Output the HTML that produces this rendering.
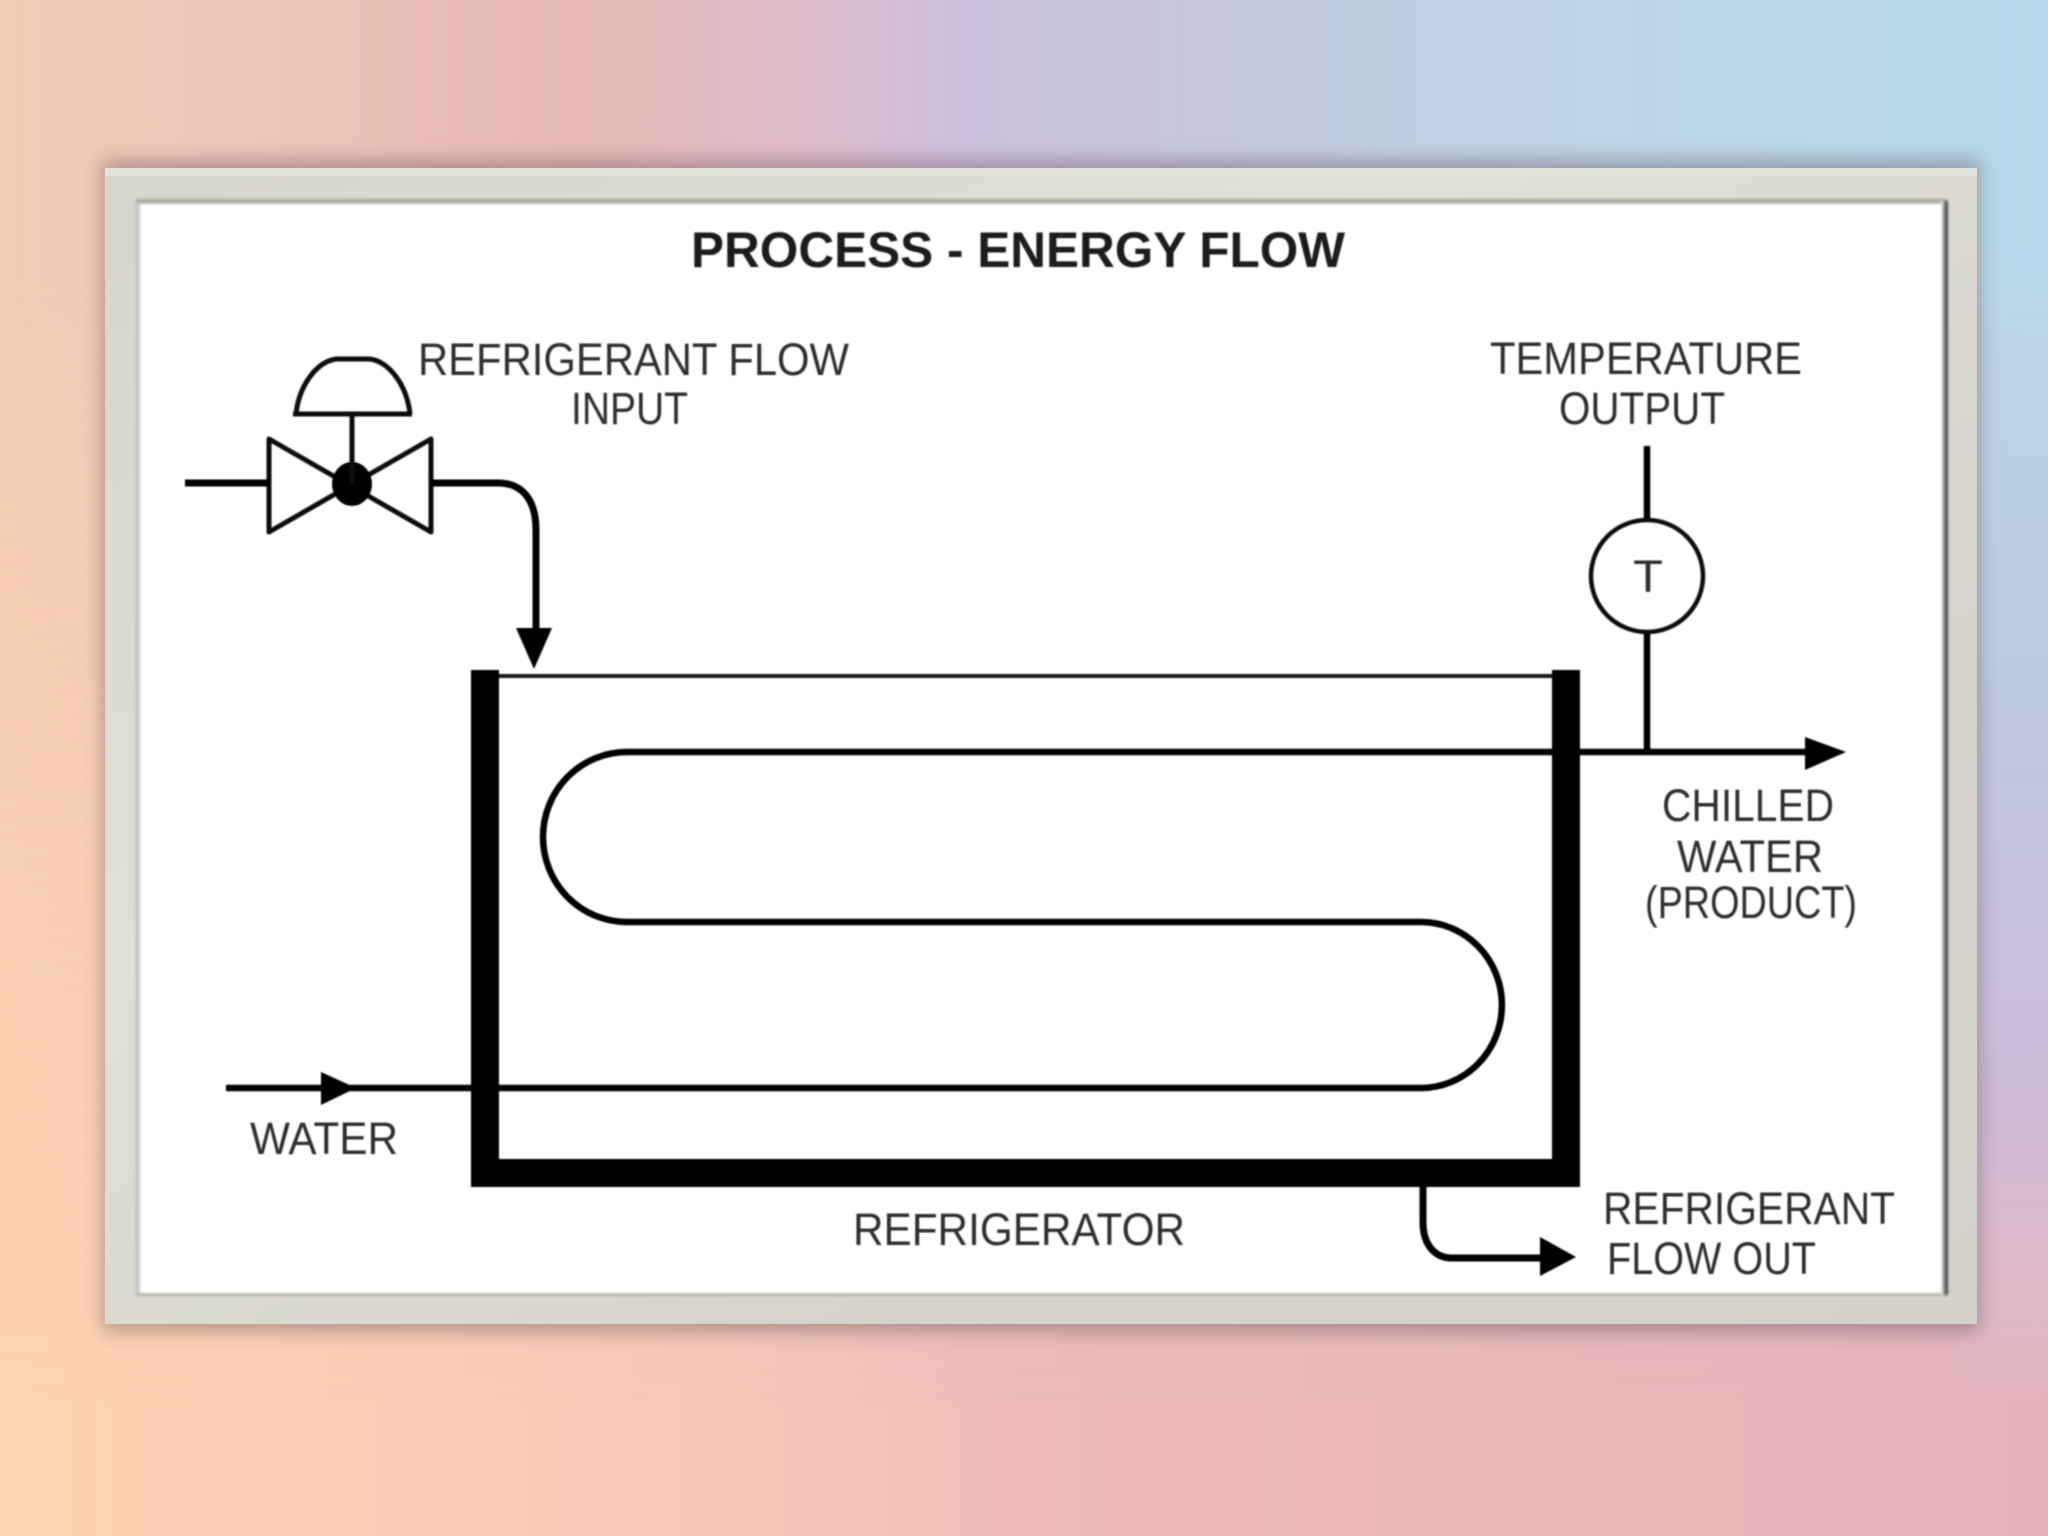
<!DOCTYPE html>
<html>
<head>
<meta charset="utf-8">
<style>
html,body{margin:0;padding:0;width:2048px;height:1536px;overflow:hidden}
body{position:relative;background:#e8b8b8}
.bg{position:absolute;left:0;top:0;width:2048px;height:1536px}
#bot{background:linear-gradient(90deg,#fdd4b1 0%,#fbd0b6 15%,#f4c8b8 35%,#edbcb8 50%,#e8b7b8 75%,#e4b3ba 100%)}
#top{background:linear-gradient(90deg,#f2cbb4 0%,#efc6ba 10%,#e6b9b4 28%,#e0bcc8 38%,#cdc0dc 47%,#c5c9de 60%,#bcd4e4 78%,#b5d9ea 100%);
-webkit-mask-image:linear-gradient(180deg,#000 0%,#000 18%,rgba(0,0,0,.6) 45%,rgba(0,0,0,.25) 68%,transparent 92%);mask-image:linear-gradient(180deg,#000 0%,#000 18%,rgba(0,0,0,.6) 45%,rgba(0,0,0,.25) 68%,transparent 92%)}
#rs{position:absolute;left:1960px;top:250px;width:88px;height:1150px;background:linear-gradient(180deg,rgba(188,208,228,0) 0%,#bcd0e4 22%,#bfc8e0 42%,#c8bfdf 60%,#cdbbd6 74%,#dfb8c8 90%,rgba(228,179,186,0) 100%)}
svg{position:absolute;left:0;top:0}
text{font-family:"Liberation Sans",sans-serif;fill:#2e2e2e;font-size:45px}
</style>
</head>
<body>
<div class="bg" id="bot"></div>
<div class="bg" id="top"></div>
<div id="rs"></div>
<svg width="2048" height="1536" viewBox="0 0 2048 1536" xmlns="http://www.w3.org/2000/svg">
<defs>
<filter id="s" x="-5%" y="-8%" width="110%" height="116%"><feGaussianBlur stdDeviation="9"/></filter>
<filter id="b" x="-2%" y="-2%" width="104%" height="104%"><feGaussianBlur stdDeviation="0.9"/></filter>
<filter id="b2" x="-2%" y="-2%" width="104%" height="104%"><feGaussianBlur stdDeviation="1.2"/></filter>
<linearGradient id="fr" x1="0" y1="0" x2="1" y2="1"><stop offset="0" stop-color="#d6d5cc"/><stop offset="0.35" stop-color="#e0e0d6"/><stop offset="0.7" stop-color="#d6d3cb"/><stop offset="1" stop-color="#d4d1ca"/></linearGradient>
<linearGradient id="rd" x1="0" y1="0" x2="1" y2="0"><stop offset="0" stop-color="#fff"/><stop offset="0.5" stop-color="#777"/><stop offset="1" stop-color="#333"/></linearGradient>
</defs>
<rect x="102" y="160" width="1878" height="1172" fill="#5a4048" opacity="0.38" filter="url(#s)"/>
<rect x="105" y="168" width="1872" height="1156" fill="url(#fr)"/>
<rect x="105" y="168" width="1872" height="8" fill="#e3e3d9"/>
<g filter="url(#b2)">
<rect x="136" y="199" width="1812" height="97" fill="#a6a69f"/>
<rect x="136" y="201" width="1812" height="1095" fill="#b2b2ab"/>
<rect x="135" y="203" width="5" height="1090" fill="#c4cac6"/>
<rect x="140" y="204" width="1804" height="1089" fill="#fff"/>
<rect x="1941" y="201" width="7" height="1094" fill="url(#rd)"/>
</g>
<g filter="url(#b)">
<text x="691" y="267" style="font-size:50px;font-weight:bold;fill:#1c1c1c" textLength="654" lengthAdjust="spacingAndGlyphs">PROCESS - ENERGY FLOW</text>
<text x="418" y="375" textLength="431" lengthAdjust="spacingAndGlyphs">REFRIGERANT FLOW</text>
<text x="571" y="424" textLength="117" lengthAdjust="spacingAndGlyphs">INPUT</text>
<text x="1490" y="374" textLength="312" lengthAdjust="spacingAndGlyphs">TEMPERATURE</text>
<text x="1559" y="424" textLength="166" lengthAdjust="spacingAndGlyphs">OUTPUT</text>
<text x="1633" y="592" textLength="30" lengthAdjust="spacingAndGlyphs">T</text>
<text x="1662" y="821" textLength="172" lengthAdjust="spacingAndGlyphs">CHILLED</text>
<text x="1677" y="872" textLength="146" lengthAdjust="spacingAndGlyphs">WATER</text>
<text x="1645" y="918" textLength="212" lengthAdjust="spacingAndGlyphs">(PRODUCT)</text>
<text x="250" y="1154" textLength="148" lengthAdjust="spacingAndGlyphs">WATER</text>
<text x="853" y="1245" textLength="332" lengthAdjust="spacingAndGlyphs">REFRIGERATOR</text>
<text x="1603" y="1224" textLength="292" lengthAdjust="spacingAndGlyphs">REFRIGERANT</text>
<text x="1607" y="1274" textLength="209" lengthAdjust="spacingAndGlyphs">FLOW OUT</text>

<!-- tank -->
<path d="M471 670H499V1159H1552V670H1580V1187H471Z" fill="#000"/>
<path d="M499 676H1552" stroke="#1a1a1a" stroke-width="4" fill="none"/>

<!-- coil -->
<path d="M226 1088H1421A81 83 0 0 0 1421 922H627A84 85 0 0 1 627 752H1810" stroke="#000" stroke-width="6.5" fill="none"/>
<path d="M321 1072L356 1088L321 1105Z" fill="#000"/>
<path d="M1805 737L1846 752L1805 770Z" fill="#000"/>

<!-- thermometer -->
<path d="M1647 446V520M1647 632V752" stroke="#000" stroke-width="6.5" fill="none"/>
<ellipse cx="1647" cy="576" rx="56" ry="56" fill="none" stroke="#111" stroke-width="4.5"/>

<!-- valve -->
<path d="M269 439L431 532V439L269 532Z" fill="none" stroke="#111" stroke-width="5" stroke-linejoin="round"/>
<ellipse cx="352" cy="484" rx="20" ry="22" fill="#000"/>
<path d="M352 414V484" stroke="#111" stroke-width="5"/>
<path d="M293 414H412M296 414C299 386 316 362 336 359H370C390 362 407 386 410 414" fill="none" stroke="#111" stroke-width="5"/>
<path d="M185 483H270M431 483H498C524 483 536 502 536 530V635" fill="none" stroke="#000" stroke-width="7"/>
<path d="M516 628H552L534 669Z" fill="#000"/>

<!-- refrigerant out -->
<path d="M1423 1186V1222C1423 1245 1435 1258 1452 1258H1545" fill="none" stroke="#000" stroke-width="7"/>
<path d="M1540 1237L1576 1257L1540 1276Z" fill="#000"/>
</g>
</svg>
</body>
</html>
